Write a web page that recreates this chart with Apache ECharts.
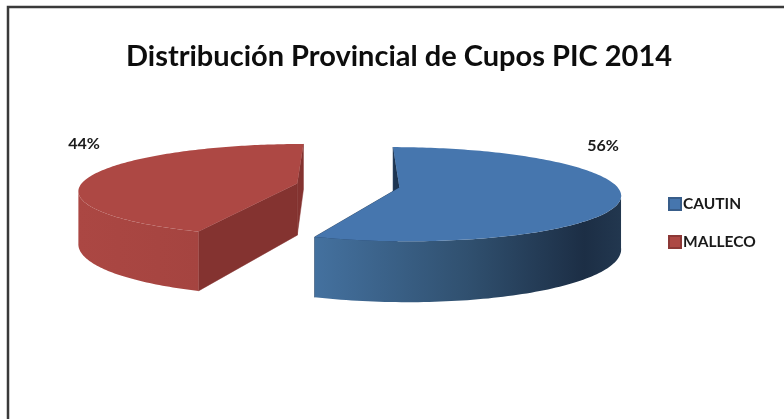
<!DOCTYPE html>
<html>
<head>
<meta charset="utf-8">
<title>Distribución Provincial de Cupos PIC 2014</title>
<style>
  html, body { margin: 0; padding: 0; background: #fff; }
  #chart { width: 784px; height: 419px; }
</style>
<script src="https://cdn.jsdelivr.net/npm/echarts@6/dist/echarts.min.js"></script>
</head>
<body>
<div id="chart"></div>
<script>
const provincias = ['CAUTIN', 'MALLECO']
const cupos = [56, 44]

const colores = ['#4676ae', '#ad4844']
const coloresBorde = ['#385d8a', '#8c3836']
const coloresCara = ['#1d3552', '#843330']
const coloresPared = [
  [[0, '#44719f'], [0.5, '#30506f'], [0.88, '#1c2e45'], [1, '#22374f']],
  [[0, '#ab4743'], [1, '#a54440']]
]
const posEtiquetas = [[603, 146], [84, 144]]

// proyeccion de la torta 3d
const VX = 348, VY = 185.5
const RADIO = 217, SEPARACION = 52, ALTO = 52
const INCLINACION = 0.21, DISTANCIA = 1550
const FRENTE = 0.14 // desde aqui la pared queda a la vista

function proyectar (x, y, z) {
  const f = 1 / (1 - y / DISTANCIA)
  return [VX + x * f, VY + (y * INCLINACION + z) * f]
}

function anguloInicio (index) {
  const total = cupos.reduce((a, b) => a + b, 0)
  return cupos.slice(0, index).reduce((a, b) => a + b, 0) / total * Math.PI * 2
}

function crearRenderItem (index) {
  return function (params, api) {
    const total = cupos.reduce((a, b) => a + b, 0)
    const inicio = anguloInicio(index)
    const fin = inicio + api.value(0) / total * Math.PI * 2
    const medio = (inicio + fin) / 2
    const cx = Math.sin(medio) * SEPARACION
    const cy = -Math.cos(medio) * SEPARACION

    const borde = (a, z) => proyectar(cx + Math.sin(a) * RADIO, cy - Math.cos(a) * RADIO, z)
    const centro = z => proyectar(cx, cy, z)
    const cara = a => ({
      type: 'polygon',
      shape: { points: [centro(0), borde(a, 0), borde(a, ALTO), centro(ALTO)] },
      style: { fill: coloresCara[index], stroke: coloresCara[index], lineWidth: 0.5 }
    })

    const arcoTop = []
    const paredTop = []
    const paredBase = []
    for (let i = 0; i <= 160; i++) {
      const a = inicio + (fin - inicio) * i / 160
      arcoTop.push(borde(a, 0))
      if (-Math.cos(a) >= FRENTE) {
        paredTop.push(borde(a, 0))
        paredBase.unshift(borde(a, ALTO))
      }
    }

    return {
      type: 'group',
      children: [
        cara(inicio),
        cara(fin),
        {
          type: 'polygon',
          shape: { points: paredTop.concat(paredBase) },
          style: {
            fill: new echarts.graphic.LinearGradient(0, 0, 1, 0,
              coloresPared[index].map(c => ({ offset: c[0], color: c[1] })))
          }
        },
        {
          type: 'polygon',
          shape: { points: [centro(0)].concat(arcoTop) },
          style: { fill: colores[index] }
        },
        {
          type: 'text',
          style: {
            text: Math.round(api.value(0) / total * 100) + '%',
            x: posEtiquetas[index][0],
            y: posEtiquetas[index][1],
            align: 'center',
            verticalAlign: 'middle',
            fill: '#1a1a1a',
            font: 'bold 16px Lato'
          }
        }
      ]
    }
  }
}

const chart = echarts.init(document.getElementById('chart'))
chart.setOption({
  animation: false,
  backgroundColor: '#fff',
  color: colores,
  title: {
    text: 'Distribución Provincial de Cupos PIC 2014',
    left: 394,
    top: 37,
    textAlign: 'center',
    textStyle: { fontFamily: 'Lato', fontWeight: 'bold', fontSize: 29, color: '#0d0d0d' }
  },
  legend: {
    orient: 'vertical',
    left: 663,
    top: 191,
    itemWidth: 12,
    itemHeight: 12,
    itemGap: 22,
    icon: 'rect',
    textStyle: { fontFamily: 'Lato', fontWeight: 'bold', fontSize: 15.5, color: '#1a1a1a', padding: [0, 0, 0, -3] },
    data: provincias
  },
  graphic: [{
    type: 'polyline',
    shape: { points: [[8, 419], [8, 7], [784, 7]] },
    style: { fill: 'none', stroke: '#3a3a3a', lineWidth: 2.5 },
    silent: true
  }],
  series: provincias.map((nombre, index) => ({
    type: 'custom',
    name: nombre,
    coordinateSystem: 'none',
    itemStyle: { color: colores[index], borderColor: coloresBorde[index], borderWidth: 1 },
    renderItem: crearRenderItem(index),
    data: [[cupos[index]]]
  }))
})
</script>
</body>
</html>
